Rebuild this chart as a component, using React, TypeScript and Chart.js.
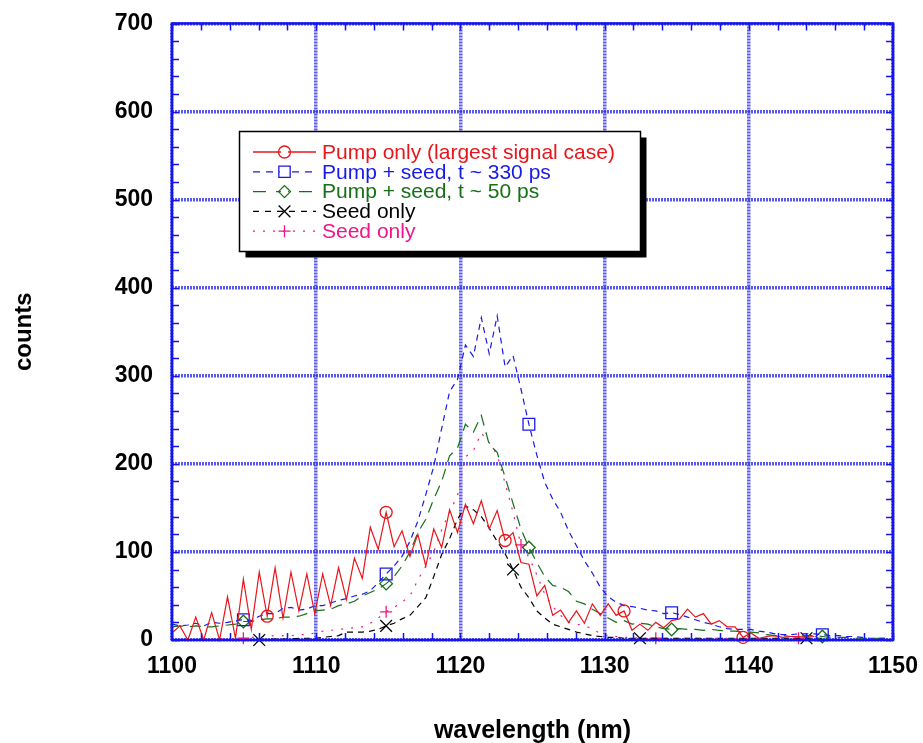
import React, { useEffect, useRef } from 'react';
import { Chart, registerables } from 'chart.js';

Chart.register(...registerables);

// ---------------- data ----------------
const WAVELENGTH = [
  1100.0, 1100.55, 1101.1, 1101.65, 1102.2, 1102.75, 1103.3, 1103.85, 1104.4, 1104.95,
  1105.5, 1106.05, 1106.6, 1107.15, 1107.7, 1108.25, 1108.8, 1109.35, 1109.9, 1110.45,
  1111.0, 1111.55, 1112.1, 1112.65, 1113.2, 1113.75, 1114.3, 1114.85, 1115.4, 1115.95,
  1116.5, 1117.05, 1117.6, 1118.15, 1118.7, 1119.25, 1119.8, 1120.35, 1120.9, 1121.45,
  1122.0, 1122.55, 1123.1, 1123.65, 1124.2, 1124.75, 1125.3, 1125.85, 1126.4, 1126.95,
  1127.5, 1128.05, 1128.6, 1129.15, 1129.7, 1130.25, 1130.8, 1131.35, 1131.9, 1132.45,
  1133.0, 1133.55, 1134.1, 1134.65, 1135.2, 1135.75, 1136.3, 1136.85, 1137.4, 1137.95,
  1138.5, 1139.05, 1139.6, 1140.15, 1140.7, 1141.25, 1141.8, 1142.35, 1142.9, 1143.45,
  1144.0, 1144.55, 1145.1, 1145.65, 1146.2, 1146.75, 1147.3, 1147.85, 1148.4, 1148.95,
  1149.5,
];

const PUMP_ONLY = [
  8, 16, 0, 26, 0, 31, 0, 49, 2, 69,
  12, 77, 27, 82, 25, 77, 33, 75, 30, 75,
  39, 82, 46, 93, 70, 128, 103, 145, 106, 124,
  95, 120, 84, 126, 105, 148, 122, 154, 132, 158,
  126, 147, 113, 122, 88, 86, 50, 62, 28, 34,
  20, 33, 19, 41, 28, 41, 28, 33, 11, 18,
  11, 20, 14, 22, 24, 35, 26, 30, 18, 22,
  15, 15, 3, 8, 2, 4, 5, 3, 4, 4,
  3, 4,
];

const PUMP_SEED_330 = [
  18, 16, 17, 19, 16, 20, 19, 20, 22, 23,
  22, 27, 30, 30, 36, 37, 34, 35, 39, 39,
  42, 45, 47, 50, 52, 56, 65, 75, 84, 95,
  112, 135, 165, 197, 240, 282, 296, 335, 322, 366,
  325, 368, 310, 323, 285, 245, 210, 179, 160, 145,
  124, 107, 90, 76, 60, 49, 43, 39, 38, 36,
  34, 33, 30, 31, 29, 26, 23, 20, 18, 15,
  13, 12, 12, 12, 10, 9, 7, 6, 6, 7,
  7, 7, 6, 5, 5, 4, 4, 3, 2, 2,
  2,
];

const PUMP_SEED_50 = [
  15, 16, 15, 16, 15, 15, 16, 17, 18, 21,
  21, 23, 24, 24, 26, 26, 27, 30, 33, 34,
  35, 39, 41, 44, 50, 54, 58, 64, 72, 84,
  100, 122, 137, 160, 180, 209, 218, 245, 236, 255,
  222, 213, 185, 155, 126, 105, 88, 72, 62, 60,
  55, 44, 41, 35, 30, 25, 20, 22, 18, 19,
  18, 15, 13, 12, 13, 12, 12, 11, 12, 11,
  10, 10, 9, 9, 8, 6, 5, 5, 4, 4,
  5, 5, 4, 3, 3, 3, 2, 2, 2, 2,
  2,
];

const SEED_ONLY_A = [
  0, 0, 0, 0, 0, 0, 0, 0, 0, 0,
  0, 0, 1, 1, 1, 1, 2, 2, 2, 3,
  4, 5, 9, 9, 9, 10, 12, 16, 19, 24,
  28, 38, 48, 72, 97, 115, 137, 152, 148, 140,
  127, 112, 98, 80, 60, 48, 33, 25, 18, 15,
  12, 9, 7, 5, 4, 3, 3, 2, 2, 2,
  2, 2, 2, 2, 2, 2, 2, 2, 2, 2,
  2, 2, 2, 2, 2, 2, 2, 2, 2, 2,
  2, 2, 2,
];

const SEED_ONLY_B = [
  0, 0, 0, 0, 1, 1, 1, 1, 1, 2,
  3, 4, 4, 5, 5, 5, 6, 6, 8, 10,
  11, 12, 13, 14, 15, 19, 25, 32, 37, 43,
  50, 68, 84, 100, 125, 145, 164, 208, 215, 235,
  224, 210, 178, 145, 108, 94, 74, 52, 38, 28,
  20, 18, 16, 13, 7, 5, 4, 3, 3, 2,
  2, 2, 2, 2, 2, 2, 2, 2, 2, 2,
  2, 2, 2, 2, 2, 2, 2, 2, 2, 2,
  2, 2, 2,
];

// indices of points that carry a marker symbol
const MARK_PUMP_ONLY = [12, 27, 42, 57, 72];
const MARK_330 = [9, 27, 45, 63, 82];
const MARK_50 = [9, 27, 45, 63, 82];
const MARK_SEED_A = [11, 27, 43, 59, 80];
const MARK_SEED_B = [9, 27, 44, 61, 79];

const SERIES_LABELS = [
  'Pump only (largest signal case)',
  'Pump + seed, t ~ 330 ps',
  'Pump + seed, t ~ 50 ps',
  'Seed only',
  'Seed only',
];

const X_MIN = 1100;
const X_MAX = 1150;
const Y_MIN = 0;
const Y_MAX = 700;

// ---------------- styles ----------------
const FONT = '"Liberation Sans", Arial, Helvetica, sans-serif';
const RED = '#e8161c';
const BLUE = '#1a1ae8';
const GREEN = '#167018';
const BLACK = '#000000';
const PINK = '#ee1689';
const FRAME = '#1414ee';
const GRID = 'rgba(45,45,232,0.78)';

function toPoints(vals: number[]) {
  return vals.map((v, i) => ({ x: WAVELENGTH[i], y: v }));
}

function drawMarker(ctx: CanvasRenderingContext2D, style: string, x: number, y: number, r: number) {
  ctx.beginPath();
  if (style === 'circle') {
    ctx.arc(x, y, r, 0, Math.PI * 2);
  } else if (style === 'rect') {
    const s = Math.SQRT1_2 * r;
    ctx.rect(x - s, y - s, 2 * s, 2 * s);
  } else if (style === 'rectRot') {
    ctx.moveTo(x - r, y);
    ctx.lineTo(x, y - r);
    ctx.lineTo(x + r, y);
    ctx.lineTo(x, y + r);
    ctx.closePath();
  } else if (style === 'crossRot') {
    const s = Math.SQRT1_2 * r;
    ctx.moveTo(x - s, y - s);
    ctx.lineTo(x + s, y + s);
    ctx.moveTo(x - s, y + s);
    ctx.lineTo(x + s, y - s);
  } else if (style === 'cross') {
    ctx.moveTo(x - r, y);
    ctx.lineTo(x + r, y);
    ctx.moveTo(x, y - r);
    ctx.lineTo(x, y + r);
  }
  ctx.stroke();
}

const framePlugin = {
  id: 'innerFrame',
  afterDatasetsDraw(chart: any) {
    const { ctx, chartArea: a, scales } = chart;
    const x = scales.x;
    const y = scales.y;
    ctx.save();
    ctx.setLineDash([]);
    ctx.strokeStyle = FRAME;
    ctx.lineWidth = 1.5;
    ctx.beginPath();
    for (let v = X_MIN; v <= X_MAX; v += 2) {
      const px = Math.round(x.getPixelForValue(v)) + 0.5;
      ctx.moveTo(px, a.bottom);
      ctx.lineTo(px, a.bottom - 7);
      ctx.moveTo(px, a.top);
      ctx.lineTo(px, a.top + 7);
    }
    for (let v = Y_MIN; v <= Y_MAX; v += 20) {
      const py = Math.round(y.getPixelForValue(v)) + 0.5;
      ctx.moveTo(a.left, py);
      ctx.lineTo(a.left + 7, py);
      ctx.moveTo(a.right, py);
      ctx.lineTo(a.right - 7, py);
    }
    ctx.stroke();
    ctx.lineWidth = 2.5;
    ctx.strokeRect(a.left, a.top, a.right - a.left, a.bottom - a.top);
    ctx.restore();
  },
};

const legendPlugin = {
  id: 'boxLegend',
  afterDraw(chart: any) {
    const ctx: CanvasRenderingContext2D = chart.ctx;
    const L = 239.5, T = 131.5, R = 640.5, B = 251.5;
    ctx.save();
    ctx.fillStyle = '#000';
    ctx.fillRect(L + 6, T + 6, R - L, B - T);
    ctx.fillStyle = '#fff';
    ctx.fillRect(L, T, R - L, B - T);
    ctx.strokeStyle = '#000';
    ctx.lineWidth = 1.5;
    ctx.setLineDash([]);
    ctx.strokeRect(L, T, R - L, B - T);
    ctx.font = `21px ${FONT}`;
    ctx.textBaseline = 'middle';
    ctx.textAlign = 'left';
    chart.data.datasets.forEach((ds: any, i: number) => {
      const yy = 152 + i * 19.8;
      ctx.strokeStyle = ds.borderColor;
      ctx.lineWidth = 1.3;
      ctx.setLineDash(ds.legendDash || []);
      ctx.beginPath();
      ctx.moveTo(253, yy);
      ctx.lineTo(316, yy);
      ctx.stroke();
      ctx.setLineDash([]);
      ctx.fillStyle = '#fff';
      const r = ds.legendRadius;
      if (ds.pointStyle !== 'cross' && ds.pointStyle !== 'crossRot') {
        ctx.beginPath();
        ctx.arc(284.5, yy, r * 0.6, 0, Math.PI * 2);
        ctx.fill();
      }
      drawMarker(ctx, ds.pointStyle, 284.5, yy, r);
      ctx.fillStyle = ds.borderColor;
      ctx.fillText(ds.label, 322, yy + 1);
    });
    ctx.restore();
  },
};

function markerRadius(indices: number[], r: number) {
  return (c: any) => (indices.includes(c.dataIndex) ? r : 0);
}

export default function App() {
  const canvasRef = useRef<HTMLCanvasElement | null>(null);

  useEffect(() => {
    if (!canvasRef.current) return;
    const common = {
      borderWidth: 1.2,
      tension: 0,
      pointBackgroundColor: 'rgba(0,0,0,0)',
      pointBorderWidth: 1.3,
      pointHoverRadius: 0,
      clip: false as any,
      fill: false,
    };
    const chart = new Chart(canvasRef.current, {
      type: 'line',
      data: {
        datasets: [
          {
            ...common,
            label: SERIES_LABELS[0],
            data: toPoints(PUMP_ONLY),
            borderColor: RED,
            pointBorderColor: RED,
            pointStyle: 'circle',
            pointRadius: markerRadius(MARK_PUMP_ONLY, 6),
            legendRadius: 6,
            legendDash: [],
          } as any,
          {
            ...common,
            label: SERIES_LABELS[1],
            data: toPoints(PUMP_SEED_330),
            borderColor: BLUE,
            borderDash: [6, 5],
            pointBorderColor: BLUE,
            pointStyle: 'rect',
            pointRadius: markerRadius(MARK_330, 8.3),
            legendRadius: 8,
            legendDash: [7, 6],
          } as any,
          {
            ...common,
            label: SERIES_LABELS[2],
            data: toPoints(PUMP_SEED_50),
            borderColor: GREEN,
            borderDash: [11, 7],
            pointBorderColor: GREEN,
            pointStyle: 'rectRot',
            pointRadius: markerRadius(MARK_50, 6.3),
            legendRadius: 6,
            legendDash: [13, 10],
          } as any,
          {
            ...common,
            label: SERIES_LABELS[3],
            data: toPoints(SEED_ONLY_A),
            borderColor: BLACK,
            borderDash: [6, 5],
            pointBorderColor: BLACK,
            pointStyle: 'crossRot',
            pointRadius: markerRadius(MARK_SEED_A, 8.3),
            legendRadius: 8.3,
            legendDash: [6, 6],
          } as any,
          {
            ...common,
            label: SERIES_LABELS[4],
            data: toPoints(SEED_ONLY_B),
            borderColor: PINK,
            borderDash: [2, 8],
            pointBorderColor: PINK,
            pointStyle: 'cross',
            pointRadius: markerRadius(MARK_SEED_B, 6),
            legendRadius: 6,
            legendDash: [2, 8],
          } as any,
        ],
      },
      options: {
        responsive: false,
        animation: false,
        events: [],
        layout: { padding: { top: 23.5, right: 30, left: 0, bottom: 0 } },
        plugins: {
          legend: { display: false },
          tooltip: { enabled: false },
          title: { display: false },
        },
        scales: {
          x: {
            type: 'linear',
            min: X_MIN,
            max: X_MAX,
            afterFit: (s: any) => {
              s.height = 103;
              s.paddingLeft = 0;
              s.paddingRight = 0;
            },
            ticks: {
              stepSize: 10,
              autoSkip: false,
              maxRotation: 0,
              padding: 13,
              color: '#000',
              font: { family: FONT, size: 23, weight: 'bold' },
              callback: (v: any) => String(v),
            },
            grid: {
              color: GRID,
              lineWidth: 3.5,
              drawTicks: false,
            },
            border: { display: false, dash: [2, 1] },
            title: {
              display: true,
              text: 'wavelength (nm)',
              color: '#000',
              font: { family: FONT, size: 25, weight: 'bold' },
              padding: { top: 0, bottom: -3 },
            },
          },
          y: {
            type: 'linear',
            min: Y_MIN,
            max: Y_MAX,
            afterFit: (s: any) => {
              s.width = 172;
              s.paddingTop = 0;
              s.paddingBottom = 0;
            },
            ticks: {
              stepSize: 100,
              autoSkip: false,
              padding: 19,
              color: '#000',
              font: { family: FONT, size: 23, weight: 'bold' },
              callback: (v: any) => String(v),
            },
            grid: {
              color: GRID,
              lineWidth: 3.5,
              drawTicks: false,
            },
            border: { display: false, dash: [2, 1] },
            title: {
              display: true,
              text: 'counts',
              color: '#000',
              font: { family: FONT, size: 24, weight: 'bold' },
              padding: { top: 10, bottom: 0 },
            },
          },
        },
      } as any,
      plugins: [framePlugin, legendPlugin],
    });
    return () => chart.destroy();
  }, []);

  return (
    <div style={{ position: 'fixed', left: 0, top: 0, width: 923, height: 743, background: '#fff' }}>
      <canvas ref={canvasRef} width={923} height={743} style={{ display: 'block' }} />
    </div>
  );
}
